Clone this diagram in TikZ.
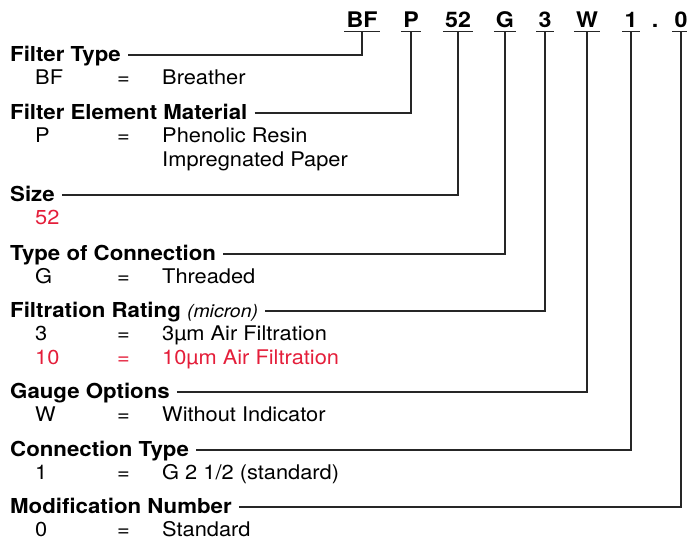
\documentclass[tikz,border=0pt]{standalone}
\usepackage{fontspec}
\setmainfont{TeX Gyre Heros}[FakeStretch=1.08]
\usepackage{xcolor}
\definecolor{codered}{RGB}{228,30,58}

\tikzset{
  code/.style={anchor=base,font=\bfseries\fontsize{21.5}{24}\selectfont,inner xsep=2pt,inner ysep=0pt,text height=15pt,text depth=4pt},
  head/.style={anchor=base west,font=\bfseries\fontsize{20.6}{24}\selectfont,inner sep=0pt,text height=15pt,text depth=3pt},
  item/.style={anchor=base west,font=\fontsize{20.2}{24}\selectfont,inner sep=0pt},
  lead/.style={line width=1.1pt,black!85},
}

\begin{document}
\begin{tikzpicture}[x=1pt,y=-1pt]
\useasboundingbox (0,0) rectangle (687,539);

% order code:
\node[code] (cBF) at (362,27) {BF};
\node[code] (cP) at (411,27) {P};
\node[code] (c52) at (458,27) {52};
\node[code] (cG) at (505,27) {G};
\node[code] (c3) at (545,27) {3};
\node[code] (cW) at (587,27) {W};
\node[code] (c1) at (631,27) {1};
\node[code] (cDot) at (655,27) {.};
\node[code] (c0) at (681,27) {0};

% headings:
\node[head] (hType) at (10,61) {Filter Type};
\node[head] (hMat) at (10,119) {Filter Element Material};
\node[head] (hSize) at (10,201) {Size};
\node[head] (hConn) at (10,260) {Type of Connection};
\node[head] (hRate) at (10,317) {Filtration Rating {\mdseries\itshape\fontsize{18}{20}\selectfont(micron)}};
\node[head] (hGauge) at (10,398) {Gauge Options};
\node[head] (hCType) at (10,456) {Connection Type};
\node[head] (hMod) at (10,513) {Modification Number};

% entries:
\node[item] (kBF) at (35,84) {BF};
\node[item] (eBF) at (117,84) {=};
\node[item] (dBF) at (162,84) {Breather};

\node[item] (kP) at (35,142) {P};
\node[item] (eP) at (117,142) {=};
\node[item] (dP) at (162,142) {Phenolic Resin};
\node[item] (dP2) at (162,166) {Impregnated Paper};

\node[item,codered] (k52) at (35,224) {52};

\node[item] (kG) at (35,283) {G};
\node[item] (eG) at (117,283) {=};
\node[item] (dG) at (162,283) {Threaded};

\node[item] (k3) at (35,340) {3};
\node[item] (e3) at (117,340) {=};
\node[item] (d3) at (162,340) {3µm Air Filtration};
\node[item,codered] (k10) at (35,364) {10};
\node[item,codered] (e10) at (117,364) {=};
\node[item,codered] (d10) at (162,364) {10µm Air Filtration};

\node[item] (kW) at (35,421) {W};
\node[item] (eW) at (117,421) {=};
\node[item] (dW) at (162,421) {Without Indicator};

\node[item] (k1) at (35,479) {1};
\node[item] (e1) at (117,479) {=};
\node[item] (d1) at (162,479) {G 2 1/2 (standard)};

\node[item] (k0) at (35,536) {0};
\node[item] (e0) at (117,536) {=};
\node[item] (d0) at (162,536) {Standard};

% leaders:
\foreach \c in {cBF,cP,c52,cG,c3,cW,c1,c0}
  \draw[lead] (\c.south west) -- (\c.south east);
\foreach \h/\c in {hType/cBF,hMat/cP,hSize/c52,hConn/cG,hRate/c3,hGauge/cW,hCType/c1,hMod/c0}
  \draw[lead] ([xshift=7pt]\h.east) -| (\c.south);

\end{tikzpicture}
\end{document}
